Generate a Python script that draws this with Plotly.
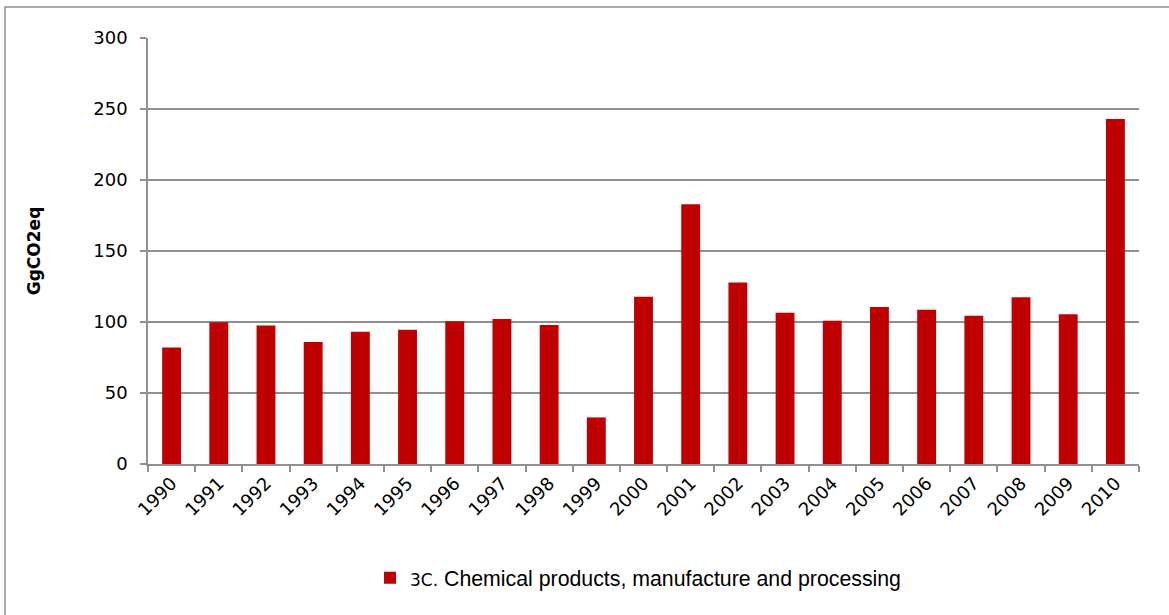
import plotly.graph_objects as go

years = [str(y) for y in range(1990, 2011)]
emissions = [82.0, 99.9, 97.5, 86.0, 93.1, 94.5, 100.6, 102.2, 97.8, 32.8,
             117.7, 182.9, 127.8, 106.5, 100.8, 110.5, 108.6, 104.4, 117.5, 105.5, 242.9]
series_name = "<span style='font-family:DejaVu Sans;font-size:17px'>3C.</span> Chemical products, manufacture and processing"
y_title = "GgCO2eq"

W, H = 1169, 615
ml, mt = 148, 38
pw, ph = 991, 426
mr, mb = W - ml - pw, H - mt - ph

fig = go.Figure()
fig.add_trace(go.Bar(
    x=years, y=emissions, name=series_name,
    marker=dict(color="#C00000", line=dict(width=0)),
    showlegend=True,
))

grid = "#8f8f8f"
fig.update_layout(
    width=W, height=H,
    margin=dict(l=ml, r=mr, t=mt, b=mb, autoexpand=False),
    paper_bgcolor="white", plot_bgcolor="white",
    bargap=0.6,
    font=dict(family="DejaVu Sans", size=18, color="#000000"),
    showlegend=True,
    legend=dict(
        orientation="h", x=(370 - ml) / pw, xanchor="left",
        y=(464 - 578) / ph, yanchor="middle",
        font=dict(family="Liberation Sans", size=21.3, color="#000000"),
        bgcolor="rgba(0,0,0,0)", itemsizing="constant",
    ),
    xaxis=dict(
        type="category", tickangle=-45, showline=True, linecolor=grid, linewidth=1.5,
        ticks="outside", ticklen=6, tickcolor=grid, tickwidth=1.5, tickson="boundaries",
        showgrid=False, tickfont=dict(family="DejaVu Sans", size=18),
    ),
    yaxis=dict(
        range=[0, 300], dtick=50, showline=True, linecolor=grid, linewidth=1.5,
        ticks="outside", ticklen=6, tickcolor=grid, tickwidth=1.5, ticklabelstandoff=9,
        showgrid=True, gridcolor=grid, gridwidth=1.5, zeroline=False,
        tickfont=dict(family="DejaVu Sans", size=18),
        title=dict(text="<b>" + y_title + "</b>", font=dict(family="DejaVu Sans", size=17), standoff=48),
    ),
    shapes=[dict(
        type="rect", xref="paper", yref="paper",
        x0=(5 - ml) / pw, x1=(W + 20 - ml) / pw,
        y0=-(H + 20 - mt - ph) / ph, y1=(mt + ph - 7) / ph,
        line=dict(color="#8f8f8f", width=1.5), fillcolor="rgba(0,0,0,0)", layer="below",
    )],
)

fig.write_html(
    "out.html",
    config={"displayModeBar": False},
    post_script="document.body.style.margin='0';document.body.style.overflow='hidden';",
)
